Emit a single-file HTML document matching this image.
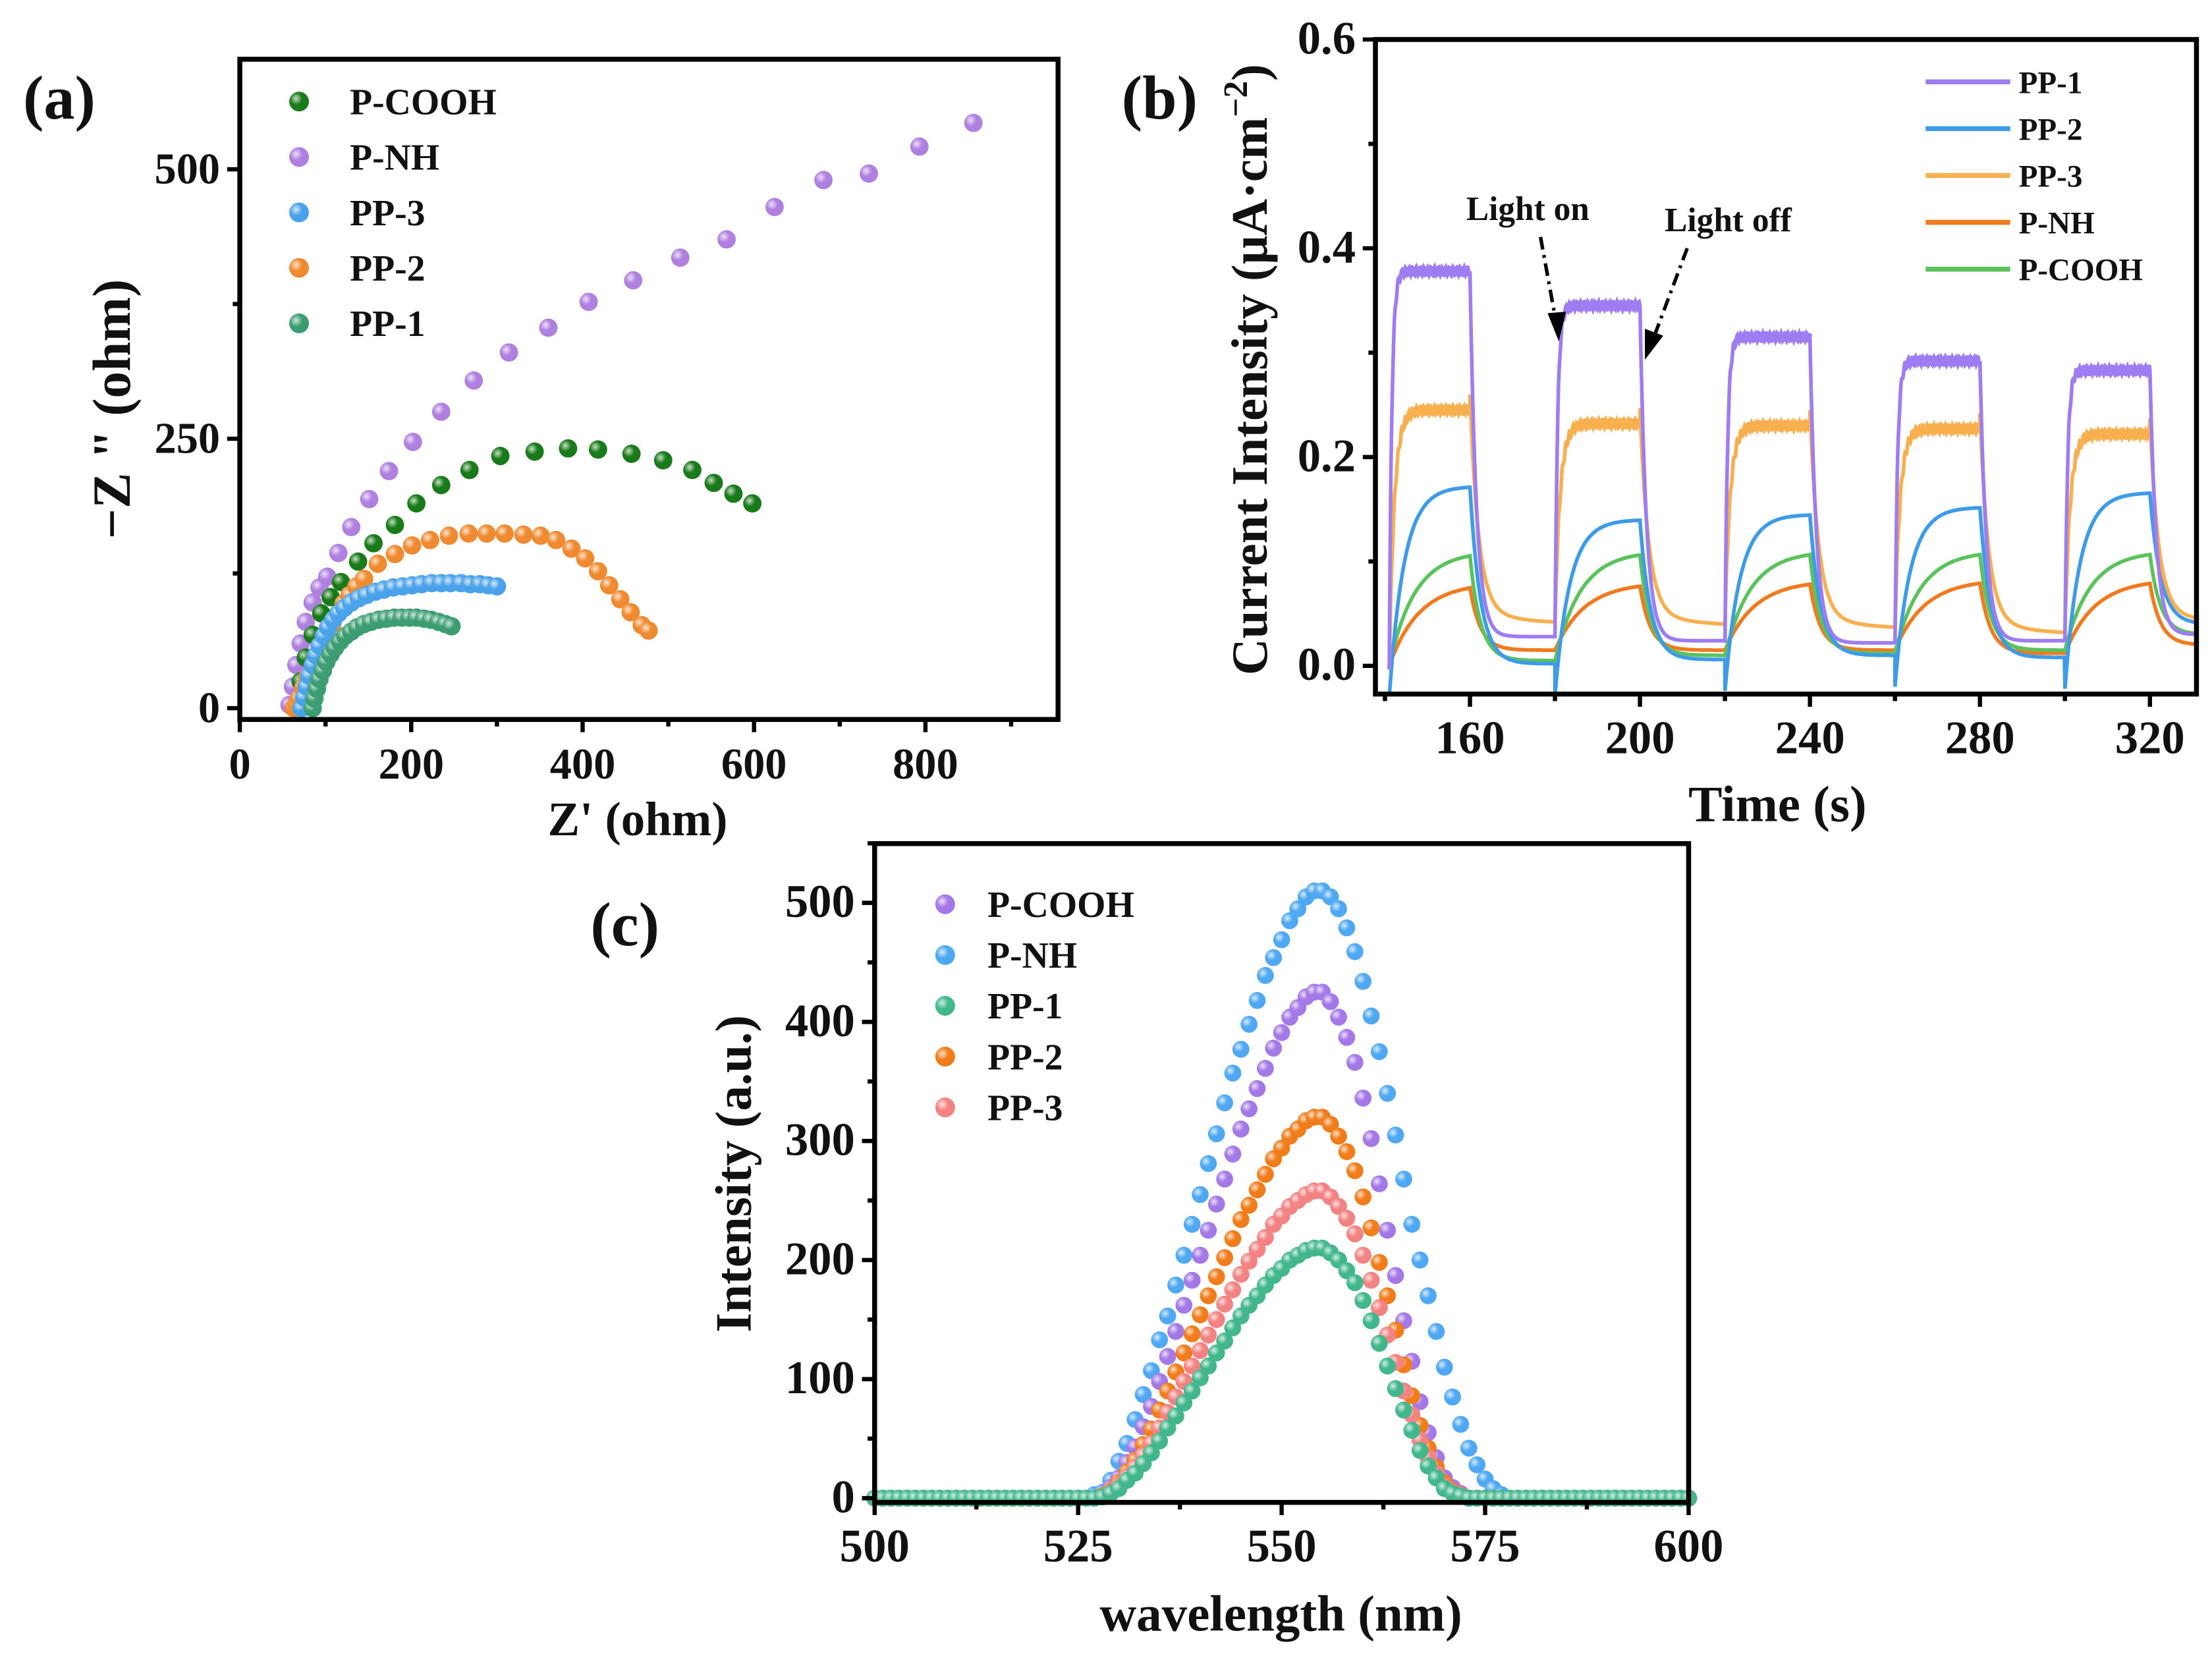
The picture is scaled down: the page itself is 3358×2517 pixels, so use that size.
<!DOCTYPE html>
<html><head><meta charset="utf-8">
<style>
html,body{margin:0;padding:0;background:#fff;}
svg{display:block;}
text{font-family:"Liberation Serif",serif;font-weight:bold;fill:#111;}
</style></head>
<body>
<svg id="fig" xmlns="http://www.w3.org/2000/svg" width="3358" height="2517" viewBox="0 0 1568 1175.3" preserveAspectRatio="none">
<defs>
<radialGradient id="shine" cx="0.35" cy="0.35" r="0.7"><stop offset="0" stop-color="#fff" stop-opacity="0.75"/><stop offset="0.45" stop-color="#fff" stop-opacity="0"/></radialGradient>
</defs>
<g id="pa"></g>
<g id="pb"></g>
<g id="pc"></g>
</svg>
<script>
// ---------- Panel (a) data: Nyquist (Z', -Z'') ----------
const aSeriesNames = ["P-COOH","P-NH","PP-3","PP-2","PP-1"];
const aPNH_x = [58,62,66,71,77,85,93,102,115,130,151,174,202,235,273,314,360,407,459,514,568,624,681,734,793,856];
const aPNH_y = [3,20,40,60,80,98,112,122,144,168,194,220,247,275,304,330,353,377,397,418,435,465,490,496,521,543];
const aPCOOH_x = [66,71,77,85,95,106,118,138,156,181,206,235,268,304,344,383,418,457,494,528,553,576,598];
const aPCOOH_y = [3,25,47,68,88,103,117,136,153,170,190,207,221,234,238,241,240,236,230,221,209,199,190];
const aPP2_x = [63,66,69,74,79,85,91,96,102,108,115,121,128,136,145,161,181,201,222,244,267,288,309,331,351,369,387,403,418,431,444,456,469,477];
const aPP2_y = [0,4,9,19,29,38,48,58,68,78,88,97,105,113,120,134,143,151,156,160,162,162,162,161,160,156,148,139,127,114,101,89,77,72];
const aPP3_x = [72,75,78,81,85,89,93,98,103,109,115,122,130,139,148,158,168,179,190,201,212,224,235,246,258,269,280,290,300];
const aPP3_y = [0,10,20,30,40,49,58,67,75,82,88,93,98,102,105,108,110,112,113,114,115,116,116,116,116,115,115,114,113];
const aPP1_x = [85,87,90,93,97,101,106,111,117,123,130,137,145,153,162,171,180,189,198,206,215,223,232,240,247];
const aPP1_y = [0,9,18,27,35,43,50,56,62,67,71,75,78,80,82,83,84,84,84,84,83,82,80,78,76];
const aXTicks = [0,200,400,600,800];
const aYTicks = [0,250,500];

// ---------- Panel (b) data: photocurrent ----------
const bSeriesNames = ["PP-1","PP-2","PP-3","P-NH","P-COOH"];
const bOnTimes = [141,180,220,260,300];
const bOffTimes = [160,200,240,280,320];
const bPP1_on = [0.378,0.345,0.315,0.292,0.283];
const bPP2_on = [0.172,0.140,0.145,0.152,0.166];
const bPP3_on = [0.245,0.232,0.230,0.227,0.222];
const bPNH_on = [0.080,0.080,0.082,0.083,0.083];
const bPCOOH_on = [0.110,0.110,0.110,0.110,0.110];
const bPP1_dark = [0.028,0.024,0.022,0.024,0.030];
const bPP2_dark = [0.002,0.006,0.010,0.008,0.040];
const bPP3_dark = [0.040,0.038,0.035,0.030,0.040];
const bPNH_dark = [0.015,0.015,0.015,0.012,0.020];
const bPCOOH_dark = [0.005,0.010,0.012,0.015,0.030];
const bXTicks = [160,200,240,280,320];
const bYTicks = [0.0,0.2,0.4,0.6];

// ---------- Panel (c) data: PL spectra (values from 526 nm, 1 nm step) ----------
const cSeriesNames = ["P-COOH","P-NH","PP-1","PP-2","PP-3"];
const cStartWl = 526;
const cPNH = [0,3,5,15,31,46,66,87,107,133,153,179,204,230,255,281,306,332,357,377,398,418,439,454,469,485,495,505,510,510,505,495,479,459,434,405,375,340,305,268,230,200,170,140,110,85,62,42,28,16,8,3,0];
const cPCOOH = [0,0,2,9,17,30,43,60,77,98,119,140,162,183,204,225,247,268,289,310,327,344,361,378,391,404,412,421,425,425,417,404,387,366,336,302,264,225,187,149,115,81,55,34,17,9,4,0];
const cPP2 = [0,0,2,6,13,22,32,45,58,74,90,106,122,138,154,170,186,202,218,234,246,259,272,285,294,304,310,317,320,320,314,304,291,275,253,227,198,170,141,112,86,61,42,26,13,6,3,0];
const cPP3 = [0,0,1,5,10,18,26,36,46,59,72,85,98,111,124,137,150,163,175,188,199,209,219,230,237,245,250,255,258,258,253,245,235,222,204,183,160,137,114,90,70,49,34,21,10,5,3,0];
const cPP1 = [0,0,1,4,8,15,21,29,38,48,59,69,80,90,101,111,122,132,143,153,162,170,179,187,193,200,204,208,210,210,206,200,191,181,166,149,130,111,92,74,57,40,27,17,8,4,2,0];
const cXTicks = [500,525,550,575,600];
const cYTicks = [0,100,200,300,400,500];

const NS="http://www.w3.org/2000/svg";
function mk(parent, tag, attrs){const e=document.createElementNS(NS,tag);for(const k in attrs)e.setAttribute(k,attrs[k]);parent.appendChild(e);return e;}
function lin(d0,d1,r0,r1){return v=>r0+(v-d0)*(r1-r0)/(d1-d0);}

function frame(g,x0,y0,x1,y1){
  const r=mk(g,'rect',{x:x0,y:y0,width:x1-x0,height:y1-y0,fill:'none',stroke:'#000','stroke-width':3.5});
  
  
}
function xAxis(g,sx,ticks,minorStep,dmin,dmax,yb,fmt,fs){
  for(let v=Math.ceil(dmin/minorStep)*minorStep; v<=dmax+1e-9; v+=minorStep){
    const major=ticks.some(t=>Math.abs(t-v)<1e-6);
    mk(g,'line',{x1:sx(v),x2:sx(v),y1:yb,y2:yb+(major?9:5),stroke:'#000','stroke-width':3});
  }
  ticks.forEach(t=>{
    const tx=mk(g,'text',{x:sx(t),y:yb+42,'text-anchor':'middle','font-size':fs});
    tx.textContent=fmt(t);
    
    
  });
}
function yAxis(g,sy,ticks,minorStep,dmin,dmax,xl,fmt,fs){
  for(let v=Math.ceil(dmin/minorStep)*minorStep; v<=dmax+1e-9; v+=minorStep){
    const major=ticks.some(t=>Math.abs(t-v)<1e-6);
    mk(g,'line',{x1:xl,x2:xl-(major?9:5),y1:sy(v),y2:sy(v),stroke:'#000','stroke-width':3});
  }
  ticks.forEach(t=>{
    const tx=mk(g,'text',{x:xl-14,y:sy(t)+10,'text-anchor':'end','font-size':fs});
    tx.textContent=fmt(t);
    
    
  });
}
function ball(g,x,y,r,c){
  mk(g,'circle',{cx:x,cy:y,r:r,fill:c});
  mk(g,'circle',{cx:x,cy:y,r:r,fill:'url(#shine)'});
}
function label(g,txt,x,y,fs,rot,name){
  const t=mk(g,'text',{x:x,y:y,'text-anchor':'middle','font-size':fs});
  if(rot) t.setAttribute('transform',`rotate(-90 ${x} ${y})`);
  t.textContent=txt;
  
  
  return t;
}

// ===== Panel (a) =====
(function(){
  const g=document.getElementById('pa');
  const X0=170,X1=750,Y0=42,Y1=510;
  const sx=lin(0,800,170,656), sy=lin(0,500,502,120);
  const cols={"P-COOH":"#187a18","P-NH":"#b080e0","PP-3":"#4aa2ea","PP-2":"#f08a30","PP-1":"#3d9d72"};
  const data=[["P-NH",aPNH_x,aPNH_y],["P-COOH",aPCOOH_x,aPCOOH_y],["PP-2",aPP2_x,aPP2_y],["PP-3",aPP3_x,aPP3_y],["PP-1",aPP1_x,aPP1_y]];
  data.forEach(([n,xs,ys])=>{
    const sg=mk(g,'g',{});
    
    
    xs.forEach((x,i)=>ball(sg,sx(x),sy(ys[i]),6.5,cols[n]));
  });
  frame(g,X0,Y0,X1,Y1);
  xAxis(g,sx,aXTicks,100,0,950,Y1,v=>String(v),31);
  yAxis(g,sy,aYTicks,125,0,600,X0,v=>String(v),31);
  label(g,"Z' (ohm)",452,592,34,false,'x-axis-title');
  label(g,'\u2212Z " (ohm)',92,290,38,true,'y-axis-title');
  label(g,'(a)',42,84,44,false,'panel-label-a');
  aSeriesNames.forEach((n,i)=>{
    const y=72+i*39.3;
    const lg=mk(g,'g',{});
    
    
    ball(lg,212,y,7,cols[n]);
    const t=mk(lg,'text',{x:248,y:y+9,'font-size':26});t.textContent=n;
  });
})();

// ===== Panel (b) =====
(function(){
  const g=document.getElementById('pb');
  const X0=975,X1=1557,Y0=28,Y1=492;
  const sx=lin(160,320,1042,1524), sy=lin(0,0.6,472,28);
  const cols={"PP-1":"#9e7df2","PP-2":"#3d9be8","PP-3":"#f8b04e","P-NH":"#f27a1e","P-COOH":"#5cc35c"};
  const tau={"PP-1":0.6,"PP-2":3.5,"PP-3":1.2,"P-NH":7,"P-COOH":6};
  const tauD={"PP-1":1.5,"PP-2":2.5,"PP-3":2,"P-NH":2.5,"P-COOH":2.5};
  const sets={"PP-1":[bPP1_on,bPP1_dark],"PP-2":[bPP2_on,bPP2_dark],"PP-3":[bPP3_on,bPP3_dark],"P-NH":[bPNH_on,bPNH_dark],"P-COOH":[bPCOOH_on,bPCOOH_dark]};
  const order=["P-NH","P-COOH","PP-2","PP-3","PP-1"];
  const clip=mk(g,'clipPath',{id:'clipb'});mk(clip,'rect',{x:X0,y:Y0,width:X1-X0,height:Y1-Y0});
  order.forEach(n=>{
    const [on,dk]=sets[n];
    let pts=[]; let prev=(n==="PP-2")?-0.03:0.0;
    for(let c=0;c<on.length;c++){
      const t0=bOnTimes[c], t1=bOffTimes[c];
      const start=prev;
      let v=start;
      for(let t=t0;t<=t1;t+=0.1){
        v=start+(on[c]-start)*(1-Math.exp(-(t-t0)/tau[n]));
        const wig=(n==="PP-1"||n==="PP-3")?0.004*Math.sin(t*7.3+c):0;
        pts.push([sx(t),sy(v+wig)]);
      }
      const tEnd=(c+1<on.length)?bOnTimes[c+1]:331;
      const top=v;
      for(let t=t1;t<=tEnd;t+=0.1){
        v=dk[c]+(top-dk[c])*Math.exp(-(t-t1)/tauD[n])+ (n==="PP-3"?0.015*Math.exp(-(t-t1)/10):0);
        pts.push([sx(t),sy(v)]);
      }
      prev=v;
      if(n==="PP-2" && c+1<on.length) prev=v-0.03;
    }
    const p=mk(g,'path',{d:'M'+pts.map(q=>q[0].toFixed(1)+','+q[1].toFixed(1)).join('L'),fill:'none',stroke:cols[n],'stroke-width':2.6,'clip-path':'url(#clipb)'});
    
    
  });
  frame(g,X0,Y0,X1,Y1);
  xAxis(g,sx,bXTicks,20,140,330,Y1,v=>String(v),33);
  yAxis(g,sy,bYTicks,0.1,0,0.6,X0,v=>v.toFixed(1),33);
  label(g,'Time (s)',1260,582,36,false,'x-axis-title');
  const yt=label(g,'Current Intensity (\u03bcA\u00b7cm',898,262,36,true,'y-axis-title');
  const sup=mk(yt,'tspan',{dy:-14,'font-size':24});sup.textContent='\u22122';
  const cl=mk(yt,'tspan',{dy:14});cl.textContent=')';
  label(g,'(b)',822,84,44,false,'panel-label-b');
  label(g,'Light on',1083,156,24,false,'annotation-light-on');
  label(g,'Light off',1225,164,24,false,'annotation-light-off');
  const a1=mk(g,'line',{x1:1092,y1:168,x2:1103,y2:228,stroke:'#000','stroke-width':2.5,'stroke-dasharray':'9,4,2,4'});
  
  mk(g,'polygon',{points:'1105,242 1097,222 1110,221',fill:'#000'});
  const a2=mk(g,'line',{x1:1196,y1:176,x2:1172,y2:240,stroke:'#000','stroke-width':2.5,'stroke-dasharray':'9,4,2,4'});
  
  mk(g,'polygon',{points:'1166,255 1166,233 1179,238',fill:'#000'});
  bSeriesNames.forEach((n,i)=>{
    const y=58+i*33.2;
    const lg=mk(g,'g',{});
    
    
    mk(lg,'line',{x1:1365,x2:1425,y1:y,y2:y,stroke:cols[n],'stroke-width':3.5});
    const t=mk(lg,'text',{x:1431,y:y+8,'font-size':22});t.textContent=n;
  });
})();

// ===== Panel (c) =====
(function(){
  const g=document.getElementById('pc');
  const X0=620,X1=1197,Y0=598,Y1=1065;
  const sx=lin(500,600,620,1197), sy=lin(0,500,1062,640);
  const cols={"P-COOH":"#a478e6","P-NH":"#4fa8f2","PP-1":"#42b78c","PP-2":"#f07d1a","PP-3":"#f38282"};
  const data=[["P-NH",cPNH],["P-COOH",cPCOOH],["PP-2",cPP2],["PP-3",cPP3],["PP-1",cPP1]];
  data.forEach(([n,vals])=>{
    const sg=mk(g,'g',{});
    
    
    for(let w=500;w<=600;w++){
      const i=w-cStartWl;
      const v=(i>=0&&i<vals.length)?vals[i]:0;
      ball(sg,sx(w),sy(v),6,cols[n]);
    }
  });
  frame(g,X0,Y0,X1,Y1);
  xAxis(g,sx,cXTicks,12.5,500,600,Y1,v=>String(v),33);
  yAxis(g,sy,cYTicks,50,0,550,X0,v=>String(v),33);
  label(g,'wavelength (nm)',908,1156,36,false,'x-axis-title');
  label(g,'Intensity (a.u.)',532,832,36,true,'y-axis-title');
  label(g,'(c)',443,670,44,false,'panel-label-c');
  cSeriesNames.forEach((n,i)=>{
    const y=641+i*36;
    const lg=mk(g,'g',{});
    
    
    ball(lg,670,y,7,cols[n]);
    const t=mk(lg,'text',{x:700,y:y+9,'font-size':26});t.textContent=n;
  });
})();
</script>
</body></html>
